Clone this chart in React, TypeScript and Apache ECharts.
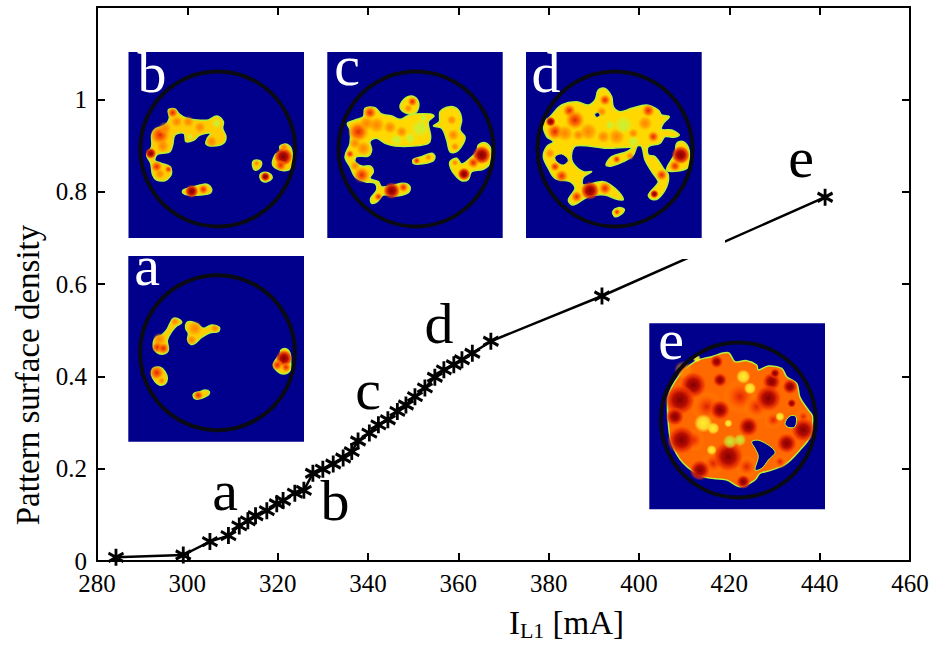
import React, { useEffect, useRef } from "react";
import * as echarts from "echarts";

const currentMA = [284.2, 299.1, 305.0, 309.1, 311.5, 313.4, 315.1, 317.6, 319.8, 321.2, 323.8, 325.8, 327.8, 330.0, 332.3, 334.5, 336.4, 337.8, 340.3, 342.3, 344.4, 346.5, 348.4, 350.4, 352.6, 354.8, 356.8, 359.0, 360.8, 363.1, 367.2, 391.8, 441.2];
const density = [0.008, 0.013, 0.042, 0.055, 0.076, 0.087, 0.098, 0.109, 0.124, 0.131, 0.147, 0.153, 0.19, 0.199, 0.21, 0.223, 0.237, 0.26, 0.277, 0.295, 0.306, 0.324, 0.338, 0.356, 0.375, 0.398, 0.414, 0.425, 0.436, 0.45, 0.476, 0.574, 0.788];
const yTickLabels = ["0", "0.2", "0.4", "0.6", "0.8", "1"];
const pointLetters = [
  { t: "a", x: 225, b: 513 },
  { t: "b", x: 335, b: 523 },
  { t: "c", x: 368, b: 412 },
  { t: "d", x: 439, b: 346 },
  { t: "e", x: 801, b: 180 },
];

type Pt = number[];
type Inset = {
  label: string; lx: number; lb: number; ox: number; oy: number; grow: number;
  rect: number[]; circle: number[]; base: string; blobs: Pt[][]; holes: Pt[][]; spots: number[][];
};

const insetA: Inset = {
  label: "a", lx: 147, lb: 288, ox: 120, oy: 250, grow: 1.25, rect: [128.3, 256, 175.7, 185.7], circle: [217.5, 352.7], base: "#ffcc00",
  blobs: [
    [[160, 205], [175, 207], [185, 218], [170, 228], [155, 245], [142, 270], [145, 300], [130, 312], [110, 307], [100, 290], [105, 265], [125, 255], [140, 240], [150, 220]],
    [[200, 218], [215, 215], [232, 222], [250, 235], [275, 225], [298, 232], [295, 245], [270, 248], [245, 262], [225, 280], [212, 283], [203, 270], [205, 250], [197, 235]],
    [[100, 355], [120, 352], [135, 365], [142, 385], [135, 402], [118, 405], [105, 395], [95, 375]],
    [[222, 430], [240, 425], [255, 420], [268, 425], [265, 435], [245, 445], [228, 447], [220, 440]],
    [[483, 300], [500, 297], [510, 310], [512, 335], [510, 362], [490, 372], [470, 362], [460, 345], [470, 325], [480, 315]],
  ],
  holes: [],
  spots: [[118, 268, 16, 1], [112, 292, 14, 2], [130, 295, 14, 2], [165, 215, 10, 1], [225, 235, 18, 1], [215, 270, 12, 1], [285, 235, 10, 1], [110, 368, 18, 2], [125, 392, 8, 1], [235, 436, 12, 2], [492, 325, 20, 3], [498, 352, 12, 2], [472, 345, 14, 2]],
};
const insetB: Inset = {
  label: "b", lx: 152, lb: 95, ox: 120, oy: 40, grow: 1.25, rect: [128.5, 52, 175.5, 186], circle: [217.7, 149], base: "#ffcc00",
  blobs: [
    [[145, 210], [165, 207], [178, 222], [200, 235], [235, 240], [265, 240], [290, 228], [310, 245], [308, 265], [318, 290], [310, 310], [280, 318], [258, 312], [262, 295], [272, 280], [240, 285], [222, 300], [198, 305], [192, 280], [165, 285], [158, 315], [150, 335], [125, 340], [110, 345], [105, 362], [125, 370], [150, 380], [155, 395], [150, 410], [135, 422], [110, 420], [98, 405], [92, 370], [80, 345], [95, 320], [95, 285], [105, 268], [135, 255], [148, 235]],
    [[190, 450], [215, 442], [240, 435], [262, 433], [275, 448], [270, 460], [240, 465], [205, 465], [188, 458]],
    [[400, 363], [420, 362], [425, 372], [418, 385], [405, 390], [398, 378]],
    [[420, 405], [435, 397], [452, 403], [456, 415], [440, 425], [425, 422]],
    [[480, 318], [500, 313], [515, 330], [517, 375], [505, 390], [480, 390], [458, 375], [465, 345], [480, 335]],
  ],
  holes: [],
  spots: [[158, 218, 13, 2], [120, 285, 24, 2], [135, 265, 16, 1], [128, 318, 16, 1], [92, 340, 13, 3], [110, 380, 14, 2], [145, 388, 9, 2], [120, 402, 12, 1], [170, 245, 14, 1], [205, 245, 14, 1], [240, 262, 14, 1], [275, 305, 14, 1], [290, 250, 12, 4], [210, 290, 8, 4], [410, 370, 7, 1], [436, 410, 11, 3], [490, 350, 22, 3], [482, 376, 14, 2], [492, 322, 10, 1], [215, 454, 16, 3], [250, 448, 12, 2]],
};
const insetC: Inset = {
  label: "c", lx: 347, lb: 88, ox: 320, oy: 40, grow: 1.25, rect: [327.3, 52, 175.4, 186], circle: [416, 149], base: "#ffd800",
  blobs: [
    [[135, 205], [165, 203], [185, 222], [215, 228], [240, 238], [262, 228], [285, 222], [330, 222], [342, 228], [325, 245], [332, 290], [325, 310], [280, 318], [225, 318], [195, 310], [170, 295], [150, 305], [155, 330], [145, 348], [110, 350], [105, 365], [125, 378], [150, 378], [160, 395], [150, 415], [175, 425], [185, 440], [215, 437], [250, 430], [270, 440], [265, 458], [230, 468], [190, 465], [172, 485], [155, 490], [152, 475], [170, 450], [165, 430], [135, 425], [105, 410], [90, 380], [75, 350], [90, 310], [90, 270], [82, 250], [105, 240], [130, 230]],
    [[255, 175], [275, 168], [293, 180], [295, 205], [280, 222], [255, 218], [240, 200]],
    [[360, 215], [390, 200], [415, 210], [425, 240], [420, 270], [435, 290], [430, 310], [410, 335], [390, 335], [380, 300], [365, 265], [340, 258], [358, 245]],
    [[280, 358], [305, 350], [335, 340], [345, 350], [335, 365], [300, 372], [280, 370]],
    [[475, 315], [495, 308], [512, 325], [510, 370], [490, 388], [455, 395], [445, 418], [425, 422], [405, 405], [392, 385], [390, 365], [410, 355], [425, 372], [450, 355], [470, 335]],
  ],
  holes: [],
  spots: [[150, 218, 16, 2], [115, 275, 26, 2], [140, 250, 18, 1], [170, 255, 20, 1], [210, 262, 16, 1], [245, 275, 14, 1], [130, 325, 18, 1], [105, 310, 14, 1], [90, 342, 10, 2], [125, 405, 20, 2], [105, 378, 12, 1], [300, 265, 22, 4], [270, 295, 14, 4], [230, 300, 14, 4], [310, 235, 10, 4], [215, 452, 20, 3], [250, 442, 12, 2], [175, 470, 10, 2], [277, 185, 12, 2], [265, 205, 10, 1], [395, 240, 12, 1], [400, 285, 14, 1], [405, 320, 10, 1], [290, 362, 9, 2], [325, 352, 8, 1], [485, 345, 22, 3], [460, 368, 14, 2], [432, 402, 15, 3], [405, 368, 8, 1]],
};
const insetD: Inset = {
  label: "d", lx: 546, lb: 95, ox: 520, oy: 40, grow: 1.25, rect: [526, 52, 175.7, 186], circle: [615, 149], base: "#ffd800",
  blobs: [
    [[235, 150], [255, 145], [275, 170], [280, 200], [300, 215], [335, 205], [380, 195], [415, 210], [425, 225], [448, 230], [430, 250], [425, 268], [455, 270], [478, 285], [460, 292], [435, 290], [420, 310], [385, 320], [385, 345], [405, 350], [430, 385], [445, 405], [440, 440], [415, 475], [395, 478], [385, 465], [405, 440], [415, 425], [395, 395], [375, 360], [365, 320], [352, 318], [340, 345], [310, 365], [275, 378], [258, 375], [275, 350], [320, 335], [335, 322], [260, 325], [170, 317], [155, 340], [160, 370], [190, 395], [215, 395], [190, 412], [190, 435], [250, 425], [285, 445], [310, 478], [290, 478], [255, 465], [205, 470], [160, 495], [145, 480], [165, 445], [150, 425], [105, 415], [85, 385], [70, 350], [80, 320], [100, 305], [80, 290], [70, 250], [90, 230], [125, 195], [170, 185], [205, 195], [225, 180]],
    [[470, 310], [490, 305], [507, 330], [505, 380], [480, 392], [440, 390], [465, 340]],
    [[278, 515], [295, 503], [313, 508], [305, 522], [285, 530]],
  ],
  holes: [
    [[105, 350], [125, 342], [145, 360], [130, 375], [110, 365]],
    [[224, 222], [235, 218], [240, 226], [230, 232]],
  ],
  spots: [[148, 212, 16, 2], [92, 245, 12, 3], [105, 275, 20, 2], [165, 240, 24, 2], [135, 280, 20, 1], [205, 275, 22, 1], [175, 285, 14, 1], [255, 180, 14, 2], [245, 215, 12, 1], [385, 212, 16, 2], [375, 250, 18, 1], [400, 290, 14, 2], [290, 290, 20, 1], [250, 290, 16, 1], [340, 280, 12, 1], [310, 255, 22, 4], [340, 305, 14, 4], [270, 255, 12, 4], [90, 340, 12, 1], [105, 380, 12, 2], [125, 408, 16, 2], [210, 452, 22, 3], [255, 445, 16, 2], [170, 470, 14, 2], [290, 358, 10, 2], [330, 348, 10, 1], [425, 405, 14, 2], [403, 462, 10, 3], [482, 345, 22, 3], [465, 378, 14, 2], [291, 516, 8, 2]],
};
const insetE: Inset = {
  label: "e", lx: 671, lb: 362, ox: 640, oy: 310, grow: 1.55, rect: [649.3, 323.3, 175.7, 186], circle: [738.3, 420], base: "#ff6a00",
  blobs: [
    [[215, 140], [265, 128], [285, 155], [320, 152], [350, 165], [355, 180], [385, 168], [425, 175], [440, 200], [470, 220], [480, 262], [505, 300], [518, 320], [510, 380], [480, 420], [440, 460], [390, 482], [360, 490], [345, 510], [300, 530], [260, 510], [190, 500], [130, 460], [95, 400], [85, 340], [85, 260], [115, 200], [165, 155]],
  ],
  holes: [
    [[435, 340], [450, 318], [468, 320], [465, 350], [445, 352]],
    [[335, 395], [360, 392], [405, 425], [385, 450], [365, 475], [345, 480], [355, 440], [345, 415]],
  ],
  spots: [[300, 260, 34, 2], [200, 290, 30, 2], [350, 290, 26, 2], [160, 390, 22, 2], [220, 460, 22, 2], [320, 470, 22, 2], [490, 320, 14, 2], [400, 330, 18, 2], [130, 180, 18, 1], [160, 225, 26, 3], [120, 270, 30, 3], [240, 210, 14, 3], [395, 215, 18, 3], [450, 230, 15, 3], [385, 265, 26, 3], [240, 300, 20, 3], [105, 320, 18, 3], [125, 390, 28, 3], [325, 350, 20, 3], [490, 360, 24, 3], [440, 400, 20, 3], [265, 440, 30, 3], [180, 480, 20, 3], [310, 515, 14, 3], [230, 155, 13, 3], [405, 190, 10, 3], [420, 455, 14, 2], [455, 280, 9, 3], [190, 340, 18, 0], [310, 200, 14, 0], [270, 395, 14, 4], [420, 320, 9, 0], [215, 420, 10, 0], [300, 390, 12, 4], [265, 340, 8, 0], [170, 145, 8, 0], [330, 235, 12, 0], [220, 355, 12, 0]],
};
const insets = [insetB, insetC, insetD, insetA, insetE];

const spotStops: any[] = [
  [{ offset: 0, color: "#ffee30" }, { offset: 0.6, color: "rgba(255,238,48,0.8)" }, { offset: 1, color: "rgba(255,238,48,0)" }],
  [{ offset: 0, color: "rgba(255,125,0,0.95)" }, { offset: 0.55, color: "rgba(255,140,0,0.65)" }, { offset: 1, color: "rgba(255,160,0,0)" }],
  [{ offset: 0, color: "rgba(220,30,0,0.95)" }, { offset: 0.5, color: "rgba(255,90,0,0.8)" }, { offset: 1, color: "rgba(255,150,0,0)" }],
  [{ offset: 0, color: "#800000" }, { offset: 0.45, color: "#b80c00" }, { offset: 0.78, color: "rgba(240,50,0,0.7)" }, { offset: 1, color: "rgba(255,90,0,0)" }],
  [{ offset: 0, color: "rgba(190,245,60,0.95)" }, { offset: 0.6, color: "rgba(205,240,50,0.65)" }, { offset: 1, color: "rgba(220,240,50,0)" }],
];

const NAVY = "#00008c";
const SERIF = "Liberation Serif";

function letterText(t: string, x: number, baseline: number, fill: string, z: number) {
  return {
    type: "text", z, silent: true, x, y: baseline - 23,
    style: { text: t, fill, font: `58px "${SERIF}"`, textAlign: "center", textVerticalAlign: "middle" },
  };
}

function insetElements(k: Inset) {
  const map = (p: Pt[]) => p.map(([a, b]) => [k.ox + a / 3, k.oy + b / 3]);
  const els: any[] = [];
  els.push({ type: "rect", z: 20, silent: true, shape: { x: k.rect[0], y: k.rect[1], width: k.rect[2], height: k.rect[3] }, style: { fill: NAVY } });
  k.blobs.forEach((b) =>
    els.push({ type: "polygon", z: 21, silent: true, shape: { points: map(b), smooth: 0.35 }, style: { fill: k.base, stroke: "#b4f03c", lineWidth: 1.5 } })
  );
  k.spots.forEach(([x, y, r, l]) =>
    els.push({
      type: "circle", z: 22, silent: true,
      shape: { cx: k.ox + x / 3, cy: k.oy + y / 3, r: (r * k.grow) / 3 },
      style: { fill: { type: "radial", x: 0.5, y: 0.5, r: 0.5, colorStops: spotStops[l] } },
    })
  );
  k.holes.forEach((b) =>
    els.push({ type: "polygon", z: 23, silent: true, shape: { points: map(b), smooth: 0.35 }, style: { fill: NAVY, stroke: "#b4f03c", lineWidth: 1 } })
  );
  els.push({ type: "circle", z: 24, silent: true, shape: { cx: k.circle[0], cy: k.circle[1], r: 77.5 }, style: { fill: "none", stroke: "#0a0a14", lineWidth: 4 } });
  els.push(letterText(k.label, k.lx, k.lb, "#ffffff", 25));
  return els;
}

const AXIS_COLOR = "#000000";
const tickFont = { fontFamily: SERIF, fontSize: 25, color: "#000000" };

export default function App() {
  const ref = useRef<HTMLDivElement>(null);
  useEffect(() => {
    const chart = echarts.init(ref.current!, undefined, { renderer: "svg" });
    const elements: any[] = [
      { type: "rect", z: 15, silent: true, shape: { x: 640, y: 238, width: 85, height: 21 }, style: { fill: "#ffffff" } },
      ...insets.flatMap(insetElements),
      ...pointLetters.map((l) => letterText(l.t, l.x, l.b, "#000000", 25)),
    ];
    chart.setOption({
      animation: false,
      backgroundColor: "#ffffff",
      grid: { left: 97, right: 22, top: 7, bottom: 94, containLabel: false, outerBoundsMode: "none" },
      xAxis: [
        {
          type: "value", min: 280, max: 460, interval: 20, position: "bottom",
          name: "{i|I}{s|L1}{i| [mA]}", nameLocation: "middle", nameGap: 44,
          nameTextStyle: { padding: [0, 0, 0, 126], rich: { i: { fontFamily: SERIF, fontSize: 33, color: "#000" }, s: { fontFamily: SERIF, fontSize: 22, color: "#000", verticalAlign: "bottom", padding: [14, 0, 0, 0] } } },
          axisLine: { show: true, onZero: false, lineStyle: { color: AXIS_COLOR, width: 2 } },
          axisTick: { inside: true, length: 8, lineStyle: { color: AXIS_COLOR, width: 2 } },
          axisLabel: { ...tickFont, margin: 10 },
          splitLine: { show: false },
        },
        {
          type: "value", min: 280, max: 460, interval: 20, position: "top",
          axisLine: { show: true, onZero: false, lineStyle: { color: AXIS_COLOR, width: 2 } },
          axisTick: { inside: true, length: 8, lineStyle: { color: AXIS_COLOR, width: 2 } },
          axisLabel: { show: false }, splitLine: { show: false },
        },
      ],
      yAxis: [
        {
          type: "value", min: 0, max: 1.2, interval: 0.2, position: "left",
          name: "Pattern surface density", nameLocation: "middle", nameGap: 53, nameRotate: 90,
          nameTextStyle: { padding: [0, 182, 0, 0], fontFamily: SERIF, fontSize: 33, color: "#000" },
          axisLine: { show: true, onZero: false, lineStyle: { color: AXIS_COLOR, width: 2 } },
          axisTick: { inside: true, length: 8, lineStyle: { color: AXIS_COLOR, width: 2 } },
          axisLabel: { ...tickFont, margin: 10, formatter: (_: number, i: number) => yTickLabels[i] ?? "" },
          splitLine: { show: false },
        },
        {
          type: "value", min: 0, max: 1.2, interval: 0.2, position: "right",
          axisLine: { show: true, onZero: false, lineStyle: { color: AXIS_COLOR, width: 2 } },
          axisTick: { inside: true, length: 8, lineStyle: { color: AXIS_COLOR, width: 2 } },
          axisLabel: { show: false }, splitLine: { show: false },
        },
      ],
      series: [
        {
          type: "line", xAxisIndex: 0, yAxisIndex: 0, z: 5,
          data: currentMA.map((x, i) => [x, density[i]]),
          lineStyle: { color: "#000", width: 2.5 },
          symbol: "path://M0,-8L0,8M-7,-4L7,4M-7,4L7,-4",
          symbolSize: [15, 17],
          itemStyle: { color: "none", borderColor: "#000", borderWidth: 3, opacity: 1 },
          showSymbol: true, silent: true,
        },
      ],
      graphic: { elements },
    });
    return () => chart.dispose();
  }, []);
  return <div ref={ref} style={{ position: "fixed", left: 0, top: 0, width: 932, height: 655, background: "#fff" }} />;
}
